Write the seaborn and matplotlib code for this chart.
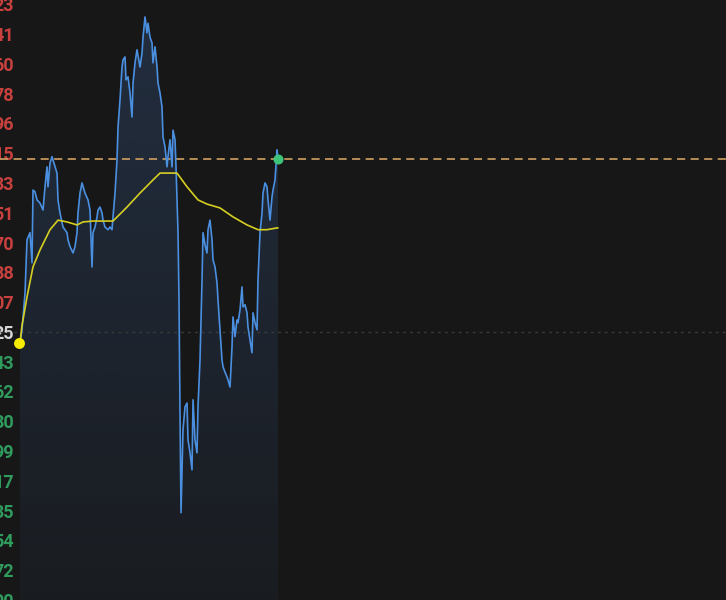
import numpy as np
import pandas as pd
import matplotlib
matplotlib.use("Agg")
from matplotlib import pyplot as plt
import seaborn as sns


# Intraday price trace, minutes since open vs price in label steps (prev close = 0)
minutes = [0, 0.67, 1.67, 2.33, 3.33, 4.0, 4.33, 5.0, 5.67, 6.67, 7.67, 8.33, 9.0, 9.33,
           10.0, 10.67, 11.0, 11.67, 12.33, 12.67, 13.33, 14.33, 15.67, 16.0, 16.67,
           17.67, 18.33, 19.0, 19.33, 20.0, 20.67, 21.67, 22.67, 23.33, 24.0, 24.33,
           25.0, 25.67, 26.0, 26.67, 27.33, 27.67, 28.33, 29.33, 30.0, 30.67, 31.0,
           31.67, 32.33, 32.67, 33.33, 34.0, 34.33, 35.0, 35.33, 36.0, 36.67, 37.33,
           37.67, 38.33, 39.0, 40.0, 40.67, 41.0, 41.67, 42.33, 42.67, 43.33, 44.0,
           44.33, 45.0, 45.67, 46.0, 46.67, 47.33, 47.67, 48.33, 49.0, 49.33, 50.0,
           50.67, 51.0, 51.67, 52.0, 52.67, 53.0, 53.33, 53.67, 54.33, 55.0, 55.67,
           56.0, 56.67, 57.33, 57.67, 58.33, 59.0, 59.33, 60.0, 60.67, 61.0, 61.67,
           62.33, 62.67, 63.33, 64.0, 64.33, 65.0, 65.67, 66.0, 66.67, 67.33, 67.67,
           68.33, 69.0, 69.33, 70.0, 70.67, 71.0, 71.67, 72.33, 72.67, 73.33, 74.0,
           74.33, 75.0, 75.67, 76.0, 76.67, 77.33, 77.67, 78.33, 79.0, 79.33, 80.0,
           80.67, 81.0, 81.67, 82.33, 82.67, 83.33, 84.0, 84.33, 85.0, 85.67, 86.0]
price = [-0.37, 0.07, 1.31, 3.09, 3.33, 2.32, 4.76, 4.70, 4.43, 4.32, 4.09, 4.87, 5.54, 4.87,
         5.67, 5.88, 5.77, 5.54, 5.33, 4.43, 3.99, 3.52, 3.33, 3.09, 2.86,
         2.65, 2.86, 3.33, 3.99, 4.66, 5.00, 4.66, 4.43, 4.09, 2.18, 3.33,
         3.52, 3.86, 4.09, 4.19, 3.99, 3.75, 3.52, 3.43, 3.52, 3.43, 3.86,
         4.66, 5.77, 6.87, 7.78, 8.89, 9.13, 9.23, 8.46, 8.56, 8.02, 7.21,
         8.35, 9.03, 9.47, 8.89, 9.36, 9.89, 10.57, 10.04, 10.36, 9.89, 9.70,
         9.03, 9.57, 8.89, 8.35, 8.02, 7.55, 6.54, 6.21, 5.54, 5.88, 6.45,
         5.54, 6.77, 6.45, 5.54, 3.33, 1.07, -2.71, -6.07, -3.28, -2.52, -2.39,
         -3.62, -4.06, -4.63, -2.28, -3.62, -4.06, -2.52, -0.94, 1.74, 3.33, 2.92,
         2.65, 3.43, 3.75, 3.09, 2.42, 2.18, 1.64, 1.07, 0.07, -0.94, -1.17,
         -1.35, -1.51, -1.61, -1.85, -0.50, 0.50, -0.16, 0.40, 0.31, 0.73, 1.51,
         0.84, 0.91, 0.64, 0.16, -0.27, -0.70, 0.64, 0.31, 0.07, 1.74, 3.33,
         3.99, 4.66, 5.00, 4.87, 4.43, 3.75, 4.53, 4.76, 5.10, 6.11, 5.80]

# Average price line
avg_minutes = [0, 0.67, 1.0, 2.33, 4.33, 6.67, 10.0, 12.67, 15.67, 19.0, 21.0, 24.33, 31.0,
               35.67, 40.0, 44.33, 46.67, 52.33, 55.67, 59.33, 62.33, 66.67, 71.0,
               75.67, 79.33, 82.33, 85.67, 86.0]
avg_price = [-0.37, 0.23, 0.40, 1.17, 2.18, 2.75, 3.43, 3.75, 3.69, 3.59, 3.69, 3.72, 3.72,
             4.19, 4.66, 5.10, 5.33, 5.33, 4.87, 4.43, 4.29, 4.16, 3.86,
             3.59, 3.43, 3.43, 3.49, 3.49]

# Axis labels (only the visible tail digits), from step -9 up to step 11
tick_steps = list(range(-9, 12))
tick_labels = ['90', '72', '54', '35', '17', '99', '80', '62', '43', '25',
               '07', '88', '70', '51', '33', '15', '96', '78', '60', '41', '23']

BG = '#171717'
UP = '#c8413f'
DOWN = '#2f9c5e'

sns.set_theme(style="dark", rc={'figure.facecolor': BG, 'axes.facecolor': BG})
plt.rcParams['font.family'] = ['Roboto', 'DejaVu Sans']

df = pd.DataFrame({'minute': minutes, 'price': price})
avg_df = pd.DataFrame({'minute': avg_minutes, 'price': avg_price})

fig = plt.figure(figsize=(7.26, 6.0), dpi=100)
ax = fig.add_axes([0, 0, 1, 1])
ymin, ymax = -8.99, 11.14
ax.set_xlim(-6.67, 235.33)
ax.set_ylim(ymin, ymax)

# gradient area under the price line
poly = ax.fill_between(df['minute'], df['price'], ymin, facecolor='none', edgecolor='none')
grad = np.zeros((256, 1, 4))
grad[:, 0, 0] = 60 / 255
grad[:, 0, 1] = 100 / 255
grad[:, 0, 2] = 160 / 255
grad[:, 0, 3] = np.linspace(0.30, 0.07, 256)
im = ax.imshow(grad, extent=[minutes[0], minutes[-1], ymin, ymax], aspect='auto',
               origin='upper', zorder=1)
im.set_clip_path(poly.get_paths()[0], transform=ax.transData)

# reference lines
ax.axhline(0, color='#3a3a3a', lw=1.0, ls=(0, (2, 3)), zorder=2)
ax.axhline(price[-1], color='#c2965c', lw=1.3, ls=(0, (4.5, 3)), zorder=2)

sns.lineplot(data=df, x='minute', y='price', ax=ax, color='#4a8fe0', lw=1.2,
             estimator=None, sort=False, zorder=3)
sns.lineplot(data=avg_df, x='minute', y='price', ax=ax, color='#d6cf22', lw=1.2,
             estimator=None, sort=False, zorder=4)

ax.scatter([minutes[0] - 0.33], [price[0]], s=62, color='#f5ec00', zorder=5, lw=0)
ax.scatter([minutes[-1]], [price[-1]], s=52, color='#3ec47a', zorder=5, lw=0)

ax.set_yticks(tick_steps)
ax.set_yticklabels(tick_labels)
ax.tick_params(axis='y', length=0, pad=-10.1, labelsize=13)
for step, lab in zip(tick_steps, ax.get_yticklabels()):
    lab.set_fontweight('bold')
    if step > 0:
        lab.set_color(UP)
    elif step < 0:
        lab.set_color(DOWN)
    else:
        lab.set_color('#d8d8d8')
ax.set_xticks([])
ax.set_xlabel('')
ax.set_ylabel('')
ax.grid(False)
for s in ax.spines.values():
    s.set_visible(False)

fig.savefig('out.png', dpi=100, facecolor=BG)
